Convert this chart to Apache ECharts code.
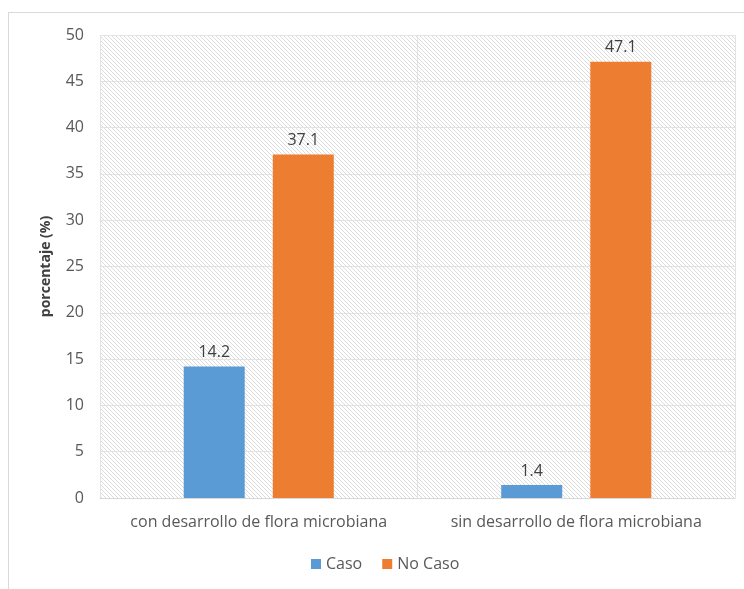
<!DOCTYPE html>
<html><head><meta charset="utf-8">
<script src="https://cdn.jsdelivr.net/npm/echarts@6/dist/echarts.min.js"></script>
<style>html,body{margin:0;padding:0;background:#fff}#c{width:744px;height:589px}
#frame{position:absolute;left:8px;top:12px;width:760px;height:600px;border:1px solid #d9d9d9;pointer-events:none}</style>
</head><body><div id="c"></div><div id="frame"></div>
<script>
const categories = ['con desarrollo de flora microbiana', 'sin desarrollo de flora microbiana'];
const seriesNames = ['Caso', 'No Caso'];
const caso = [14.2, 1.4];
const noCaso = [37.1, 47.1];
const yTicks = [0, 5, 10, 15, 20, 25, 30, 35, 40, 45, 50];

const pc = document.createElement('canvas');
pc.width = 4; pc.height = 4;
const ctx = pc.getContext('2d');
ctx.fillStyle = '#ffffff'; ctx.fillRect(0,0,4,4);
ctx.fillStyle = '#dcdcdc';
for (let i = 0; i < 4; i++) { ctx.fillRect(i, i, 1, 1); }

const chart = echarts.init(document.getElementById('c'));
const font = 'Open Sans';
chart.setOption({
  animation: false,
  textStyle: { fontFamily: font },
  grid: { left: 100, right: 9, top: 35, bottom: 91, show: true, borderWidth: 0,
    backgroundColor: { image: pc, repeat: 'repeat' } },
  legend: { bottom: 12, left: 306, itemWidth: 10, itemHeight: 10, itemGap: 20, icon: 'rect',
    textStyle: { color: '#595959', fontSize: 16, fontFamily: font } },
  xAxis: { type: 'category', data: categories,
    axisLine: { lineStyle: { color: '#d9d9d9' } }, axisTick: { show: false },
    splitLine: { show: true, interval: 0, lineStyle: { color: '#e3e3e3' } },
    axisLabel: { color: '#595959', fontSize: 16, margin: 16, interval: 0, hideOverlap: false } },
  yAxis: { type: 'value', min: 0, max: 50, interval: 5,
    name: 'porcentaje (%)', nameLocation: 'middle', nameGap: 47, nameRotate: 90,
    nameTextStyle: { fontWeight: 'bold', fontSize: 14, color: '#404040' },
    axisLine: { show: false }, axisTick: { show: false },
    splitLine: { lineStyle: { color: '#e3e3e3' } },
    axisLabel: { color: '#595959', fontSize: 16, margin: 16,
      formatter: v => yTicks.includes(v) ? String(v) : '' } },
  series: [
    { name: seriesNames[0], type: 'bar', data: caso, barWidth: 61, barGap: '46%',
      itemStyle: { color: '#5B9BD5' },
      label: { show: true, position: 'top', color: '#404040', fontSize: 16, distance: 6 } },
    { name: seriesNames[1], type: 'bar', data: noCaso, barWidth: 61,
      itemStyle: { color: '#ED7D31' },
      label: { show: true, position: 'top', color: '#404040', fontSize: 16, distance: 6 } }
  ]
});
</script></body></html>
